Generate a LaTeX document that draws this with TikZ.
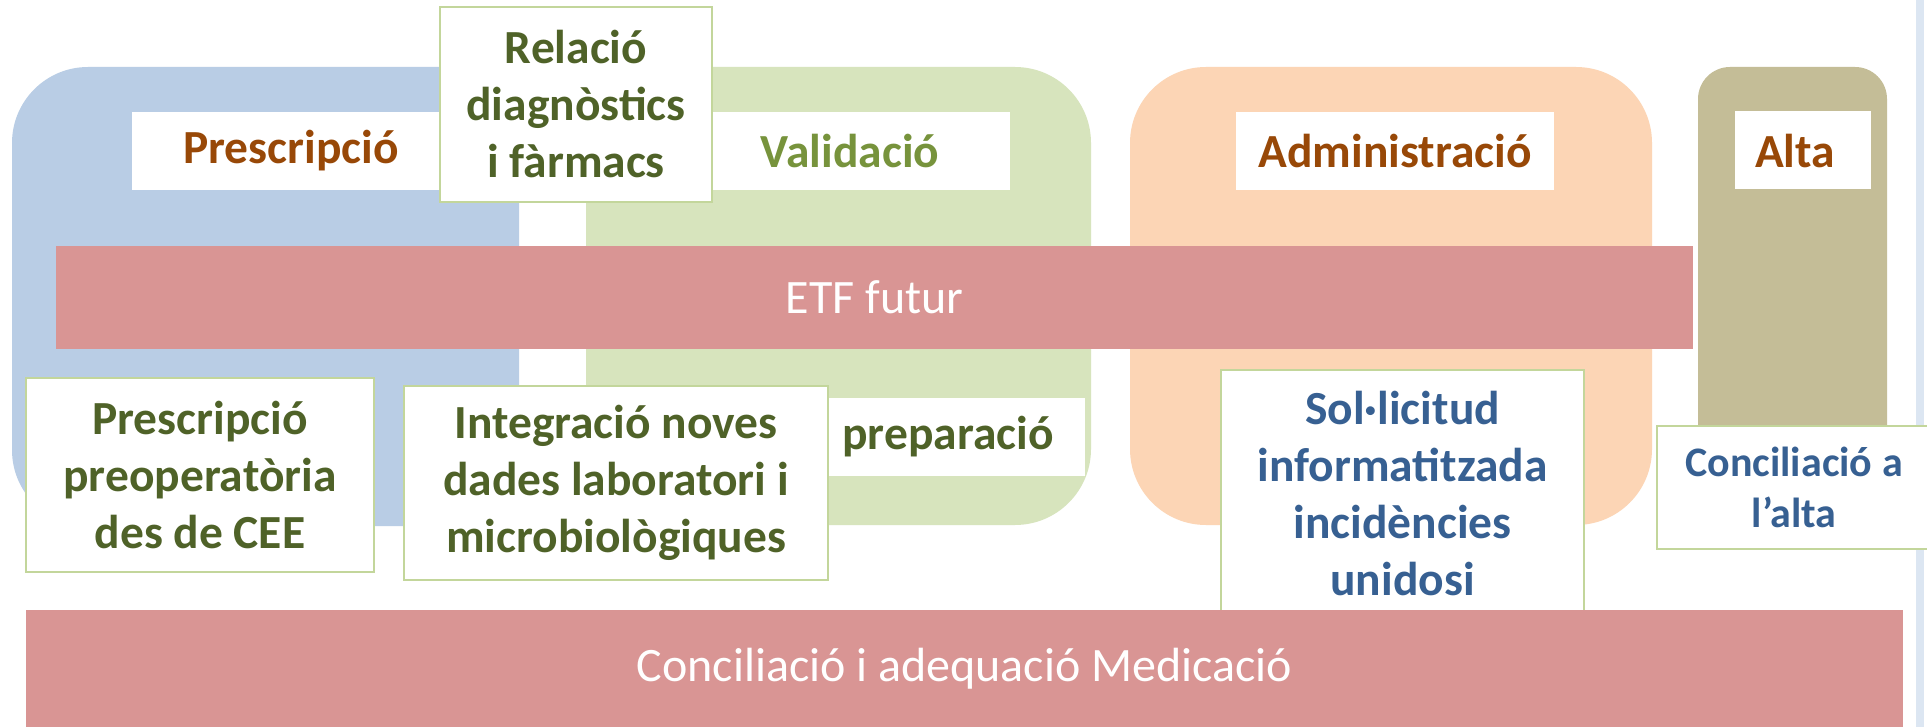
\documentclass[tikz,border=0pt]{standalone}
\usepackage{fontspec}
\setmainfont{Carlito}
\definecolor{blueP}{HTML}{B9CDE5}
\definecolor{greenP}{HTML}{D7E4BD}
\definecolor{orangeP}{HTML}{FCD5B5}
\definecolor{tanP}{HTML}{C4BD97}
\definecolor{barC}{HTML}{D99594}
\definecolor{brownT}{HTML}{984807}
\definecolor{oliveT}{HTML}{77933C}
\definecolor{dgreenT}{HTML}{4F6228}
\definecolor{blueT}{HTML}{376092}
\definecolor{boxB}{HTML}{C3D69B}
\definecolor{stripC}{HTML}{DCE6F2}
\begin{document}
\begin{tikzpicture}[x=1pt,y=-1pt,
  panel/.style={draw=none,inner sep=0pt,anchor=center},
  head/.style={fill=white,draw=none,inner sep=0pt,anchor=center,font=\fontsize{47.5}{57}\selectfont\bfseries},
  bar/.style={fill=barC,draw=none,inner sep=0pt,anchor=center,text=white},
  gbox/.style={fill=white,draw=boxB,line width=2.5pt,inner sep=0pt,anchor=center,align=center,text=dgreenT,font=\fontsize{47.5}{57}\selectfont\bfseries},
  bbox/.style={gbox,text=blueT}
]
\useasboundingbox (0,0) rectangle (1927,727);
\fill[white] (0,0) rectangle (1927,727);
% side strip
\node[panel,fill=stripC,minimum width=8pt,minimum height=727pt] (strip) at (1920,363.5) {};
% panels
\node[panel,fill=blueP,rounded corners=76pt,minimum width=507pt,minimum height=459pt] (pres) at (265.5,296.5) {};
\node[panel,fill=greenP,rounded corners=76pt,minimum width=505pt,minimum height=458pt] (valid) at (838.5,296) {};
\node[panel,fill=orangeP,rounded corners=76pt,minimum width=522pt,minimum height=458pt] (admin) at (1391,296) {};
\node[panel,fill=tanP,rounded corners=32pt,minimum width=189pt,minimum height=458pt] (alta) at (1792.5,296) {};
% headers
\node[head,text=brownT,minimum width=318pt,minimum height=78pt] (hpres) at (291,151) {Prescripció};
\node[head,text=oliveT,minimum width=320pt,minimum height=78pt] (hvalid) at (850,151) {Validació};
\node[head,text=brownT,minimum width=318pt,minimum height=78pt] (hadmin) at (1395,151) {Administració};
\node[head,text=brownT,minimum width=136pt,minimum height=78pt] (halta) at (1803,150) {};
\node[text=brownT,font=\fontsize{47.5}{57}\selectfont\bfseries,inner sep=0pt] (haltat) at (1795,151) {Alta};
% ETF bar
\node[bar,minimum width=1637pt,minimum height=103pt,font=\fontsize{48}{56}\selectfont] (etf) at (874.5,297.5) {ETF futur};
% top box
\node[gbox,minimum width=272pt,minimum height=195pt] (rel) at (576,104.5) {Relació\\diagnòstics\\i fàrmacs};
% bottom boxes
\node[head,text=dgreenT,minimum width=274pt,minimum height=78pt] (prep) at (948,437) {preparació};
\node[gbox,minimum width=348pt,minimum height=194pt] (preop) at (200,475) {Prescripció\\preoperatòria\\des de CEE};
\node[gbox,minimum width=424pt,minimum height=194pt] (integ) at (616,483) {Integració noves\\dades laboratori i\\microbiològiques};
\node[bbox,minimum width=363pt,minimum height=248pt] (sol) at (1402.5,494) {Sol·licitud\\informatitzada\\incidències\\unidosi};
\node[bbox,minimum width=274pt,minimum height=123pt,font=\fontsize{42}{51}\selectfont\bfseries] (conc) at (1794,487.5) {Conciliació a\\l’alta};
% bottom bar
\node[bar,minimum width=1877pt,minimum height=117pt,font=\fontsize{48}{56}\selectfont] (med) at (964.5,668.5) {\raisebox{-6pt}{Conciliació i adequació Medicació}};
\end{tikzpicture}
\end{document}
